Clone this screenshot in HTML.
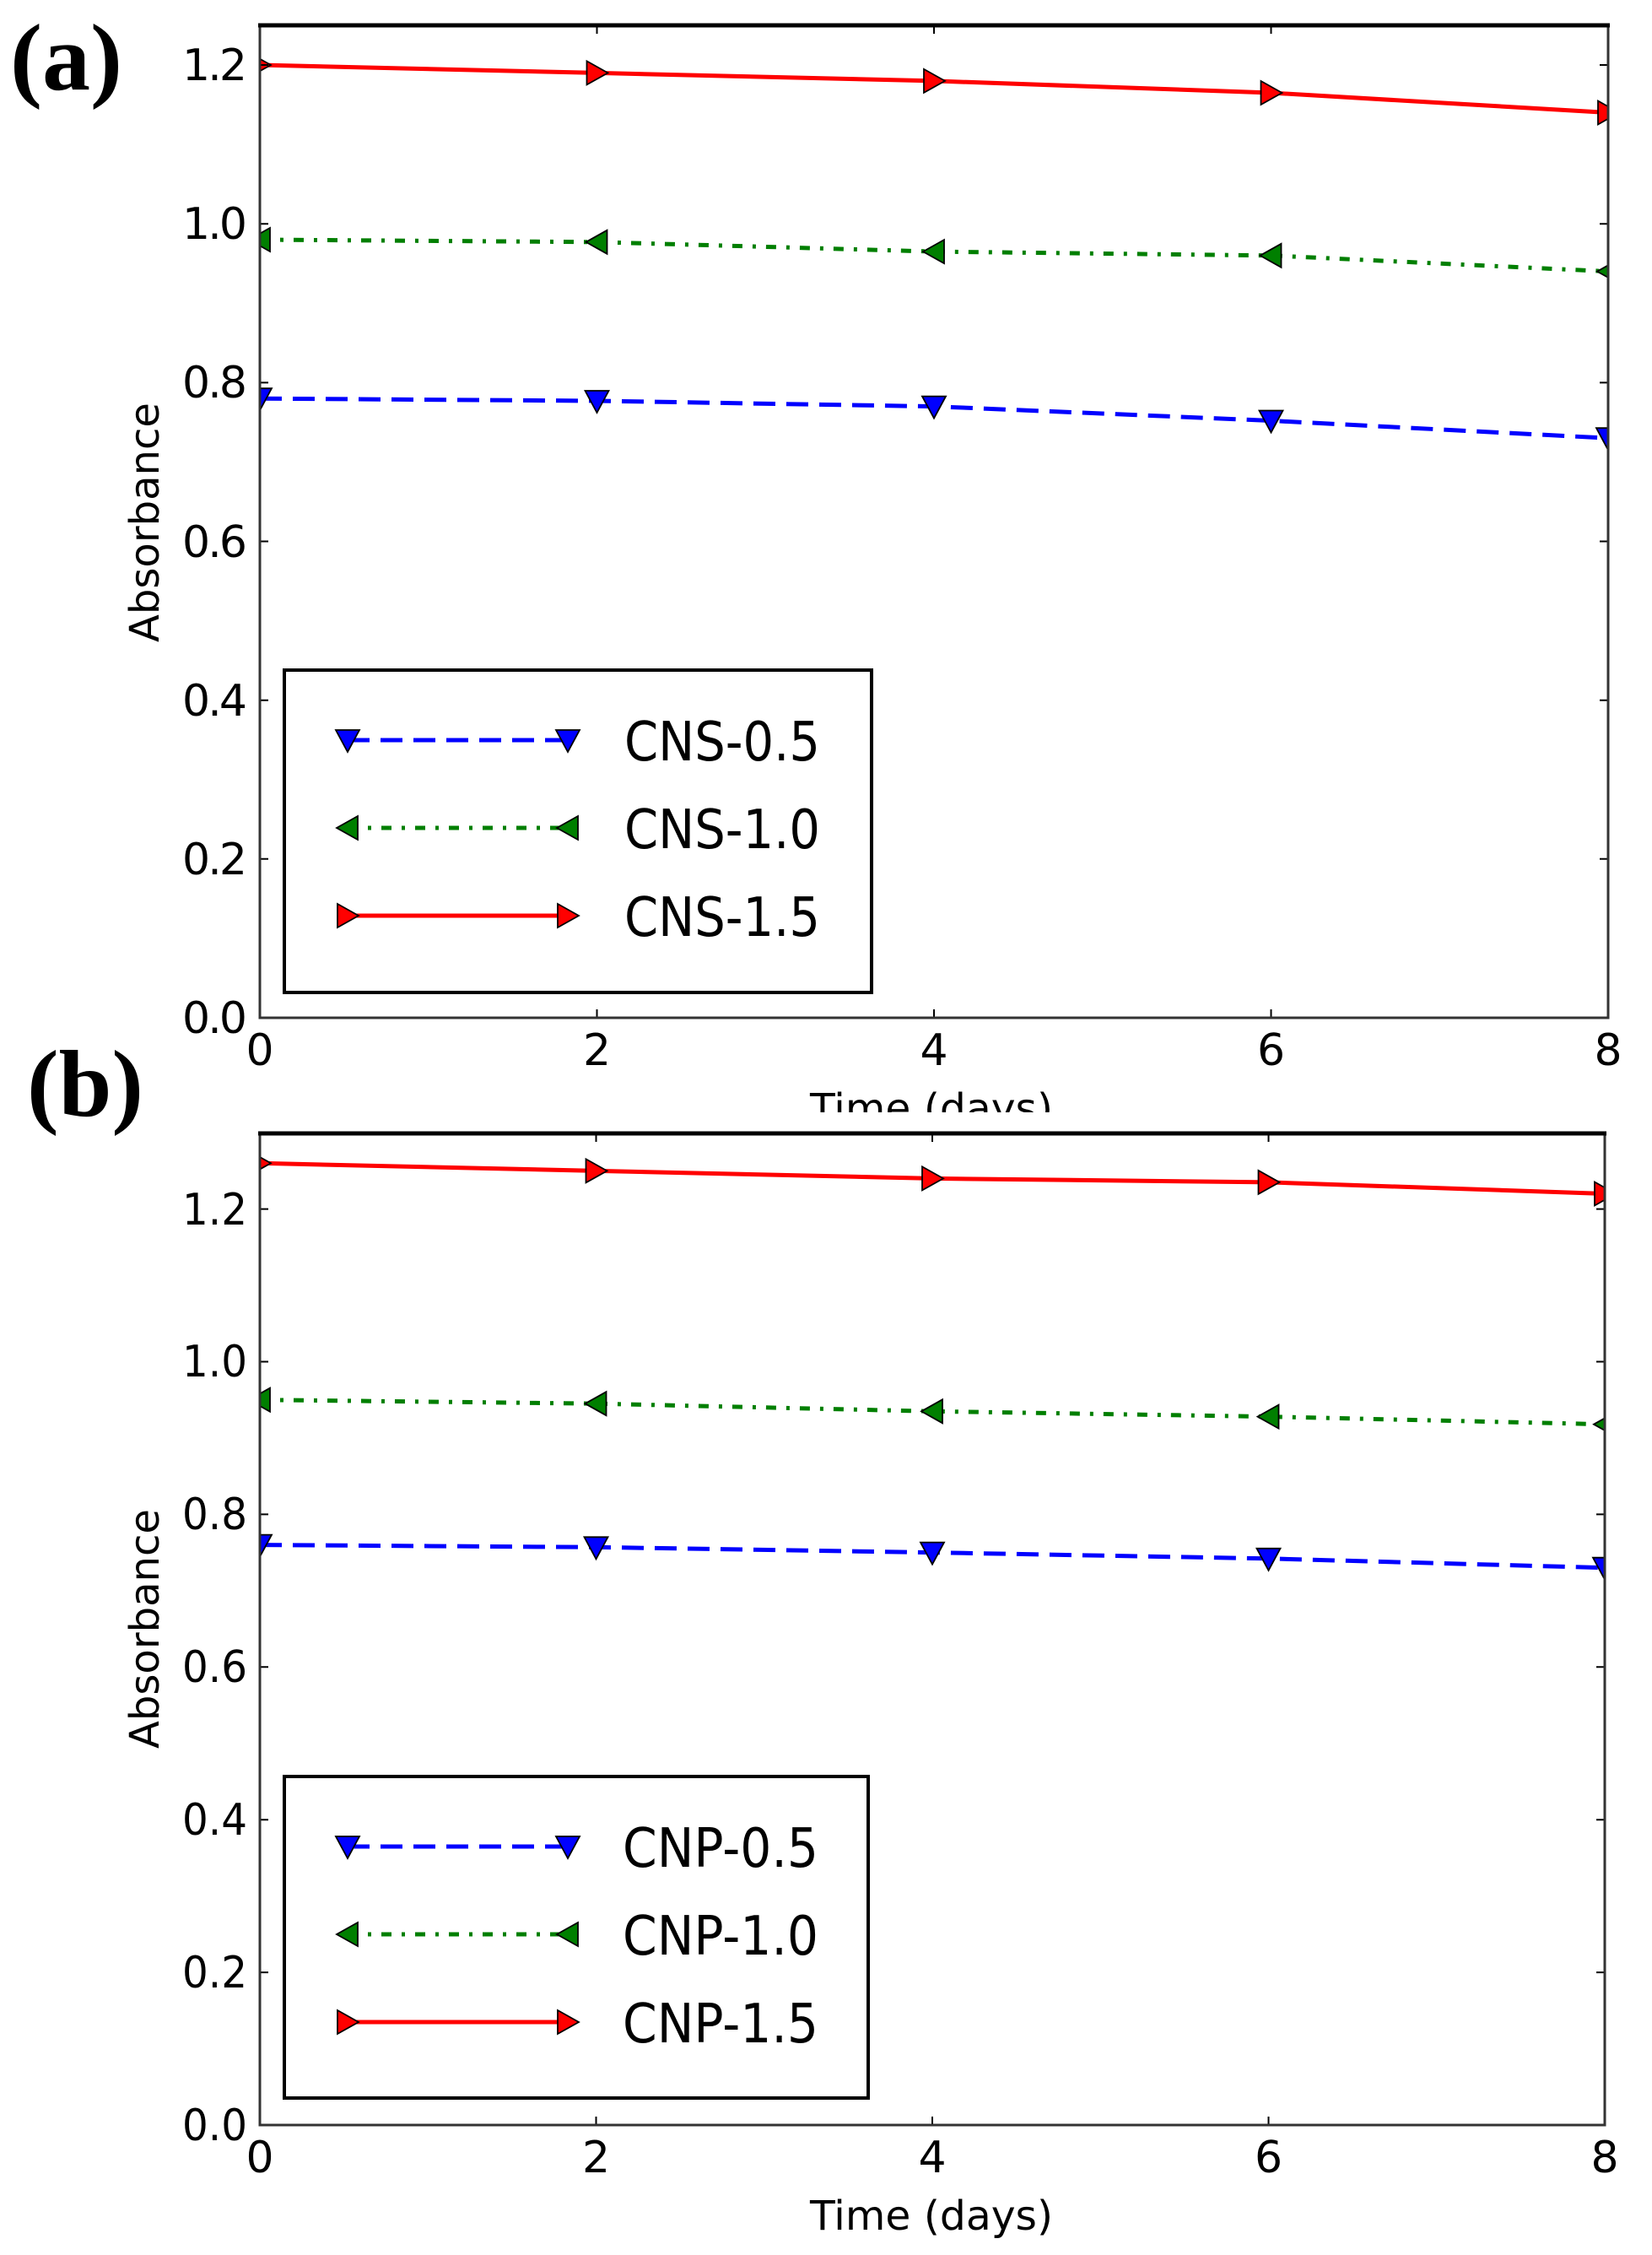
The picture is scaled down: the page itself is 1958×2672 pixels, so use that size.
<!DOCTYPE html>
<html><head><meta charset="utf-8"><style>
html,body{margin:0;padding:0;background:#fff}
svg{display:block}
text{font-family:"DejaVu Sans","Liberation Sans",sans-serif;fill:#000}
</style></head><body>
<svg width="1958" height="2672" viewBox="0 0 1958 2672" xmlns="http://www.w3.org/2000/svg">
<defs>
<path id="md" d="M-14,-12 L14,-12 L0,14 Z" stroke="#000" stroke-width="1.8" fill="#0000ff"/>
<path id="ml" d="M-13,0 L12,-14 L12,14 Z" stroke="#000" stroke-width="1.8" fill="#007f00"/>
<path id="mr" d="M13,0 L-12,-14 L-12,14 Z" stroke="#000" stroke-width="1.8" fill="#ff0000"/>
<clipPath id="c1"><rect x="308" y="30" width="1598" height="1176"/></clipPath>
<clipPath id="c2"><rect x="308" y="1343" width="1594" height="1175"/></clipPath>
</defs>

<text x="12" y="106" style="font-family:'Liberation Serif',serif;font-weight:bold;font-size:112px" textLength="133" lengthAdjust="spacingAndGlyphs">(a)</text>

<!-- ===== TOP PLOT ===== -->
<g clip-path="url(#c1)">
<polyline points="308,77 707.5,86.4 1107,95.9 1506.5,110 1906,133.5" fill="none" stroke="#ff0000" stroke-width="5"/>
<polyline points="308,284 707.5,286.8 1107,298.1 1506.5,302.8 1906,321.6" fill="none" stroke="#007f00" stroke-width="5" stroke-dasharray="12,12,4,12"/>
<polyline points="308,472.2 707.5,475 1107,481.6 1506.5,498.5 1906,519.2" fill="none" stroke="#0000ff" stroke-width="5" stroke-dasharray="26,13"/>
<use href="#mr" x="308" y="77"/><use href="#mr" x="707.5" y="86.4"/><use href="#mr" x="1107" y="95.9"/><use href="#mr" x="1506.5" y="110"/><use href="#mr" x="1906" y="133.5"/>
<use href="#ml" x="308" y="284"/><use href="#ml" x="707.5" y="286.8"/><use href="#ml" x="1107" y="298.1"/><use href="#ml" x="1506.5" y="302.8"/><use href="#ml" x="1906" y="321.6"/>
<use href="#md" x="308" y="472.2"/><use href="#md" x="707.5" y="475"/><use href="#md" x="1107" y="481.6"/><use href="#md" x="1506.5" y="498.5"/><use href="#md" x="1906" y="519.2"/>
</g>
<g stroke="#000" stroke-width="2">
<path d="M308,1017.8h10M308,829.7h10M308,641.5h10M308,453.4h10M308,265.2h10M308,77h10"/>
<path d="M1906,1017.8h-10M1906,829.7h-10M1906,641.5h-10M1906,453.4h-10M1906,265.2h-10M1906,77h-10"/>
<path d="M707.5,1206v-10M1107,1206v-10M1506.5,1206v-10M707.5,30v10M1107,30v10M1506.5,30v10"/>
</g>
<rect x="308" y="30" width="1598" height="1176" fill="none" stroke="#333" stroke-width="3"/>
<line x1="306" y1="30" x2="1908" y2="30" stroke="#000" stroke-width="5"/>
<g font-size="52" text-anchor="end" lengthAdjust="spacingAndGlyphs">
<text x="293" y="1224" textLength="77">0.0</text><text x="293" y="1036" textLength="77">0.2</text><text x="293" y="848" textLength="77">0.4</text><text x="293" y="660" textLength="77">0.6</text><text x="293" y="471" textLength="77">0.8</text><text x="293" y="283" textLength="77">1.0</text><text x="293" y="95" textLength="77">1.2</text>
</g>
<g font-size="52" text-anchor="middle">
<text x="308" y="1262" textLength="22">0</text><text x="707.5" y="1262" textLength="22">2</text><text x="1107" y="1262" textLength="22">4</text><text x="1506.5" y="1262" textLength="22">6</text><text x="1906" y="1262" textLength="22">8</text>
</g>
<text x="1104" y="1330" font-size="48" text-anchor="middle" textLength="288" lengthAdjust="spacingAndGlyphs">Time (days)</text>
<text transform="translate(188,619) rotate(-90)" font-size="48" text-anchor="middle" textLength="284" lengthAdjust="spacingAndGlyphs">Absorbance</text>
<!-- legend top -->
<rect x="337" y="794" width="696" height="382" fill="#fff" stroke="#000" stroke-width="4"/>
<line x1="412" y1="877" x2="673" y2="877" stroke="#0000ff" stroke-width="5" stroke-dasharray="26,13"/>
<use href="#md" x="412" y="877"/><use href="#md" x="673" y="877"/>
<line x1="412" y1="981" x2="673" y2="981" stroke="#007f00" stroke-width="5" stroke-dasharray="12,12,4,12"/>
<use href="#ml" x="412" y="981"/><use href="#ml" x="673" y="981"/>
<line x1="412" y1="1085" x2="673" y2="1085" stroke="#ff0000" stroke-width="5"/>
<use href="#mr" x="412" y="1085"/><use href="#mr" x="673" y="1085"/>
<g font-size="64">
<text x="740" y="901" textLength="232" lengthAdjust="spacingAndGlyphs">CNS-0.5</text>
<text x="740" y="1005" textLength="232" lengthAdjust="spacingAndGlyphs">CNS-1.0</text>
<text x="740" y="1109" textLength="232" lengthAdjust="spacingAndGlyphs">CNS-1.5</text>
</g>

<rect x="0" y="1318" width="1958" height="30" fill="#fff"/>
<text x="32" y="1322" style="font-family:'Liberation Serif',serif;font-weight:bold;font-size:112px" textLength="138" lengthAdjust="spacingAndGlyphs">(b)</text>

<!-- ===== BOTTOM PLOT ===== -->
<g clip-path="url(#c2)">
<polyline points="308,1378.3 706.5,1387.4 1105,1396.4 1503.5,1400.9 1902,1414.5" fill="none" stroke="#ff0000" stroke-width="5"/>
<polyline points="308,1658.7 706.5,1663.2 1105,1672.3 1503.5,1678.6 1902,1687.7" fill="none" stroke="#007f00" stroke-width="5" stroke-dasharray="12,12,4,12"/>
<polyline points="308,1830.6 706.5,1833.3 1105,1839.6 1503.5,1846.8 1902,1857.7" fill="none" stroke="#0000ff" stroke-width="5" stroke-dasharray="26,13"/>
<use href="#mr" x="308" y="1378.3"/><use href="#mr" x="706.5" y="1387.4"/><use href="#mr" x="1105" y="1396.4"/><use href="#mr" x="1503.5" y="1400.9"/><use href="#mr" x="1902" y="1414.5"/>
<use href="#ml" x="308" y="1658.7"/><use href="#ml" x="706.5" y="1663.2"/><use href="#ml" x="1105" y="1672.3"/><use href="#ml" x="1503.5" y="1678.6"/><use href="#ml" x="1902" y="1687.7"/>
<use href="#md" x="308" y="1830.6"/><use href="#md" x="706.5" y="1833.3"/><use href="#md" x="1105" y="1839.6"/><use href="#md" x="1503.5" y="1846.8"/><use href="#md" x="1902" y="1857.7"/>
</g>
<g stroke="#000" stroke-width="2">
<path d="M308,2337.1h10M308,2156.2h10M308,1975.3h10M308,1794.4h10M308,1613.5h10M308,1432.6h10"/>
<path d="M1902,2337.1h-10M1902,2156.2h-10M1902,1975.3h-10M1902,1794.4h-10M1902,1613.5h-10M1902,1432.6h-10"/>
<path d="M706.5,2518v-10M1105,2518v-10M1503.5,2518v-10M706.5,1343v10M1105,1343v10M1503.5,1343v10"/>
</g>
<rect x="308" y="1343" width="1594" height="1175" fill="none" stroke="#333" stroke-width="3"/>
<line x1="306" y1="1343" x2="1904" y2="1343" stroke="#000" stroke-width="5"/>
<g font-size="52" text-anchor="end">
<text x="293" y="2536" textLength="77" lengthAdjust="spacingAndGlyphs">0.0</text><text x="293" y="2355" textLength="77" lengthAdjust="spacingAndGlyphs">0.2</text><text x="293" y="2174" textLength="77" lengthAdjust="spacingAndGlyphs">0.4</text><text x="293" y="1993" textLength="77" lengthAdjust="spacingAndGlyphs">0.6</text><text x="293" y="1812" textLength="77" lengthAdjust="spacingAndGlyphs">0.8</text><text x="293" y="1631" textLength="77" lengthAdjust="spacingAndGlyphs">1.0</text><text x="293" y="1451" textLength="77" lengthAdjust="spacingAndGlyphs">1.2</text>
</g>
<g font-size="52" text-anchor="middle">
<text x="308" y="2574" textLength="22">0</text><text x="706.5" y="2574" textLength="22">2</text><text x="1105" y="2574" textLength="22">4</text><text x="1503.5" y="2574" textLength="22">6</text><text x="1902" y="2574" textLength="22">8</text>
</g>
<text x="1104" y="2642" font-size="48" text-anchor="middle" textLength="288" lengthAdjust="spacingAndGlyphs">Time (days)</text>
<text transform="translate(188,1930) rotate(-90)" font-size="48" text-anchor="middle" textLength="284" lengthAdjust="spacingAndGlyphs">Absorbance</text>
<!-- legend bottom -->
<rect x="337" y="2105" width="692" height="381" fill="#fff" stroke="#000" stroke-width="4"/>
<line x1="412" y1="2188" x2="673" y2="2188" stroke="#0000ff" stroke-width="5" stroke-dasharray="26,13"/>
<use href="#md" x="412" y="2188"/><use href="#md" x="673" y="2188"/>
<line x1="412" y1="2292" x2="673" y2="2292" stroke="#007f00" stroke-width="5" stroke-dasharray="12,12,4,12"/>
<use href="#ml" x="412" y="2292"/><use href="#ml" x="673" y="2292"/>
<line x1="412" y1="2396" x2="673" y2="2396" stroke="#ff0000" stroke-width="5"/>
<use href="#mr" x="412" y="2396"/><use href="#mr" x="673" y="2396"/>
<g font-size="64">
<text x="738" y="2212" textLength="232" lengthAdjust="spacingAndGlyphs">CNP-0.5</text>
<text x="738" y="2316" textLength="232" lengthAdjust="spacingAndGlyphs">CNP-1.0</text>
<text x="738" y="2420" textLength="232" lengthAdjust="spacingAndGlyphs">CNP-1.5</text>
</g>
</svg>
</body></html>
